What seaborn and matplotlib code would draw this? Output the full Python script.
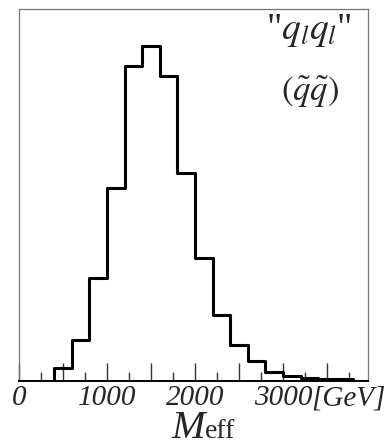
import matplotlib
matplotlib.use("Agg")
import matplotlib.pyplot as plt
import seaborn as sns
import numpy as np

# Data (arbitrary units)
bin_edges = [0, 200, 400, 600, 800, 1000, 1200, 1400, 1600, 1800, 2000, 2200, 2400,
             2600, 2800, 3000, 3200, 3400, 3600, 3800, 4000]
counts = [0, 0, 13, 41, 103, 193, 315, 335, 305, 208, 123, 66, 36, 20, 9, 5, 3, 2, 2, 0]
tick_values = [0, 1000, 2000, 3000]
tick_labels = ["0", "1000", "2000", "3000"]

sns.set_style("white")
plt.rcParams["mathtext.fontset"] = "stix"
plt.rcParams["font.family"] = ["Liberation Serif", "DejaVu Serif"]

centers = [(a + b) / 2 for a, b in zip(bin_edges[:-1], bin_edges[1:])]

fig = plt.figure(figsize=(3.91, 4.47), dpi=100)
ax = fig.add_axes([19 / 391, 66 / 447, 349 / 391, 372 / 447])

sns.histplot(x=centers, weights=counts, bins=bin_edges, element="step",
             fill=False, color="black", linewidth=2.2, ax=ax, zorder=3)

ax.set_xlim(0, 3966)
ax.set_ylim(0, 372)
ax.set_ylabel("")
ax.set_xlabel("")
ax.set_yticks([])

major = list(range(0, 4000, 500))
ax.set_xticks(major)
ax.set_xticklabels([tick_labels[tick_values.index(v)] if v in tick_values else "" for v in major])
ax.set_xticks(list(range(250, 4000, 500)), minor=True)
ax.tick_params(axis="x", which="both", bottom=True, top=False)
ax.tick_params(axis="x", which="major", direction="in", length=13, width=1.0,
               color="#333333", pad=3, labelsize=21)
ax.tick_params(axis="x", which="minor", direction="in", length=6.5, width=1.0,
               color="#333333")
for lab in ax.get_xticklabels():
    lab.set_fontstyle("italic")

for s in ["left", "top", "right"]:
    ax.spines[s].set_color("#777777")
    ax.spines[s].set_linewidth(0.9)
ax.spines["bottom"].set_color("black")
ax.spines["bottom"].set_linewidth(1.4)

# [GeV] after the 3000 label
ax.annotate("[GeV]", xy=(3320, 0), xycoords=("data", "axes fraction"),
            xytext=(0, -3), textcoords="offset points", ha="left", va="top",
            fontsize=21, fontstyle="italic", annotation_clip=False)

# Axis label M_eff
fig.text(205 / 391, 9 / 447, "M", fontsize=29, fontstyle="italic",
         ha="right", va="baseline")
fig.text(205 / 391, 9 / 447, "eff", fontsize=20, ha="left", va="baseline")

# Process label
fig.text(309 / 391, 1 - 12 / 447, r'"$q_l q_l$"', fontsize=27, ha="center", va="top")
fig.text(310 / 391, 1 - 92 / 447, r'$(\tilde{q}\tilde{q})$', fontsize=25,
         ha="center", va="center")

fig.savefig("out.png", dpi=100)
